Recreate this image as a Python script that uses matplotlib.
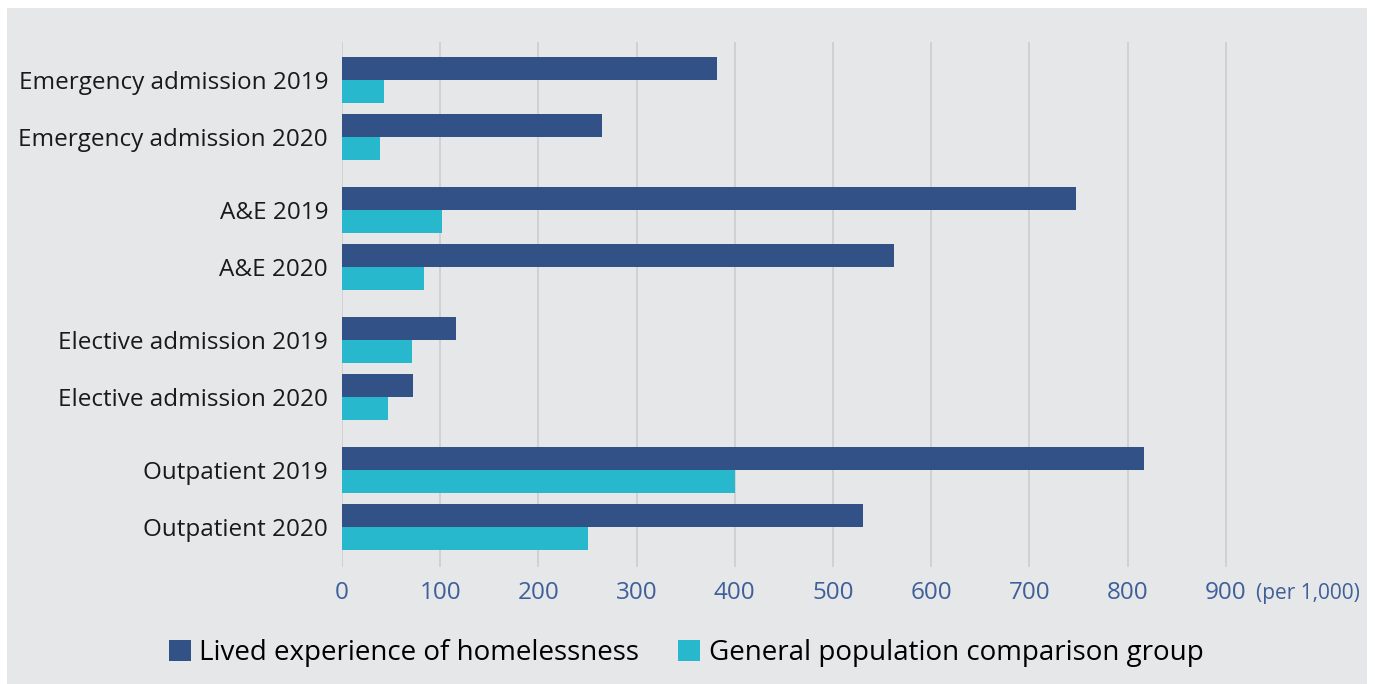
import numpy as np
import matplotlib.pyplot as plt
from matplotlib.patches import Patch, Rectangle

plt.rcParams['font.family'] = ['Open Sans', 'DejaVu Sans']

# Data (per 1,000)
categories = ['Emergency admission 2019', 'Emergency admission 2020',
              'A&E 2019', 'A&E 2020',
              'Elective admission 2019', 'Elective admission 2020',
              'Outpatient 2019', 'Outpatient 2020']
homeless = [382, 265, 747, 562, 116, 72, 817, 531]
general = [43, 39, 102, 83, 71, 47, 400, 250]
series_names = ['Lived experience of homelessness', 'General population comparison group']
xticks = [0, 100, 200, 300, 400, 500, 600, 700, 800, 900]

dark = '#325187'
teal = '#28b8ce'
bg = '#e6e7e9'
tick_col = '#3f5f99'

W, H = 1375, 684
fig = plt.figure(figsize=(W / 100, H / 100), dpi=100, facecolor='white')
fig.patches.append(Rectangle((7 / W, 0), 1360 / W, 1 - 8 / H, transform=fig.transFigure,
                             facecolor=bg, edgecolor='none', zorder=-5))

ax = fig.add_axes([342 / W, (H - 567) / H, 982 / W, 525 / H])
ax.patch.set_alpha(0)

# pairs within a group one unit apart, extra gap between groups
gap = 0.28
y = np.array([i + (i // 2) * gap for i in range(len(categories))])
h = 0.4
ax.barh(y - h / 2, homeless, height=h, color=dark, zorder=3)
ax.barh(y + h / 2, general, height=h, color=teal, zorder=3)

ax.set_xlim(0, 1000)
ax.set_ylim(y[-1] + 0.70, -0.667)
ax.set_xticks(xticks)
ax.set_xticklabels([str(t) for t in xticks], color=tick_col, fontsize=17.5)
ax.set_yticks(y)
ax.set_yticklabels(categories, fontsize=17.5, color='#1a1a1a')
ax.tick_params(axis='x', length=0, pad=10)
ax.tick_params(axis='y', length=0, pad=10)
ax.grid(axis='x', color='#cfcfd1', linewidth=1.3, zorder=0)
ax.set_axisbelow(True)
for s in ax.spines.values():
    s.set_visible(False)

fig.text(1360 / W, 1 - 593 / H, '(per 1,000)', color=tick_col, fontsize=15,
         ha='right', va='center')

handles = [Patch(facecolor=dark), Patch(facecolor=teal)]
fig.legend(handles, series_names, loc='center', bbox_to_anchor=(686 / W, 1 - 653 / H),
           ncol=2, frameon=False, fontsize=20, handlelength=0.8, handleheight=0.8,
           handletextpad=0.3, columnspacing=1.4)

fig.savefig('out.png', dpi=100, facecolor='white')
